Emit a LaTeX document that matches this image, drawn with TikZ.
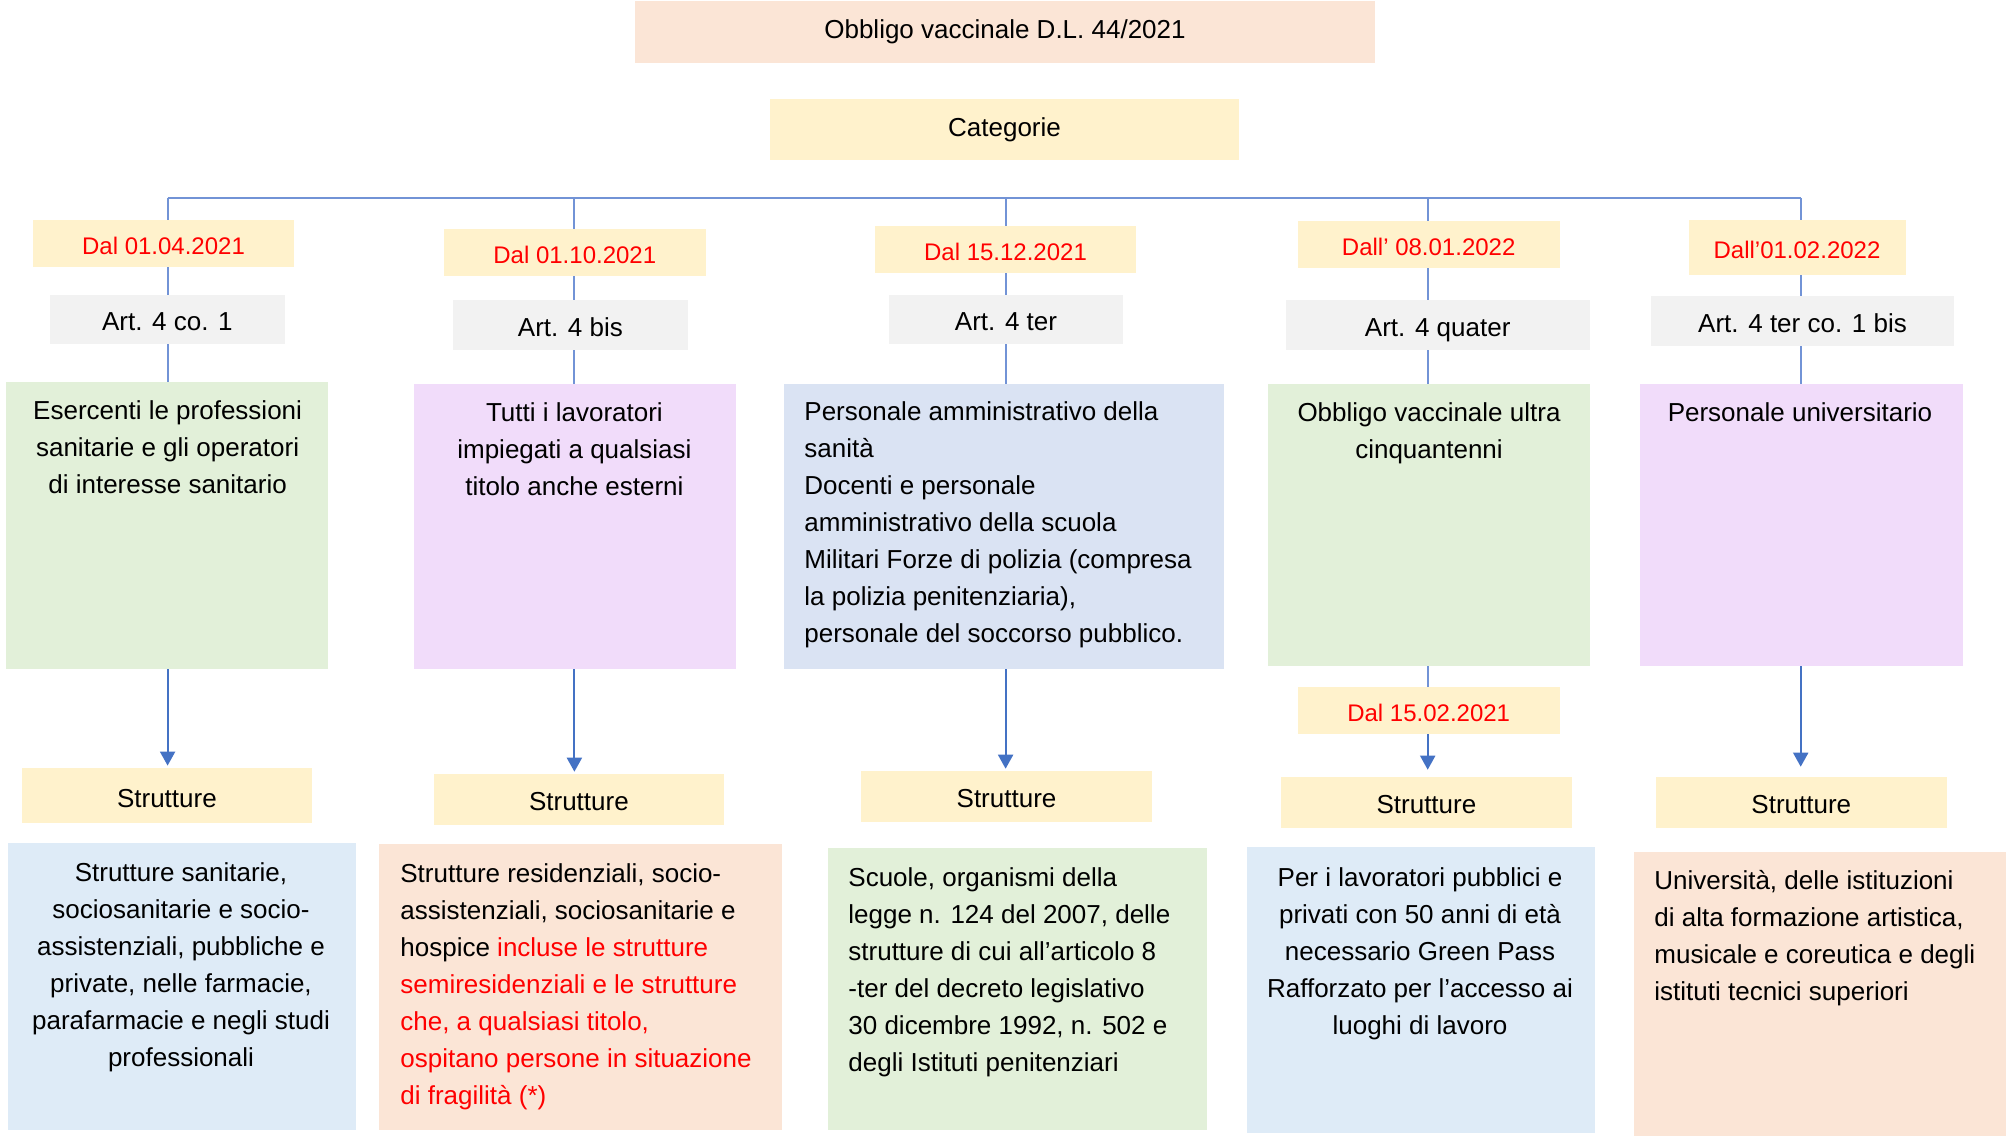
\documentclass[tikz,border=0pt]{standalone}
\usepackage{fontspec}
\setmainfont{Liberation Sans}
\usetikzlibrary{arrows.meta}

\definecolor{pesca}{HTML}{FBE5D6}
\definecolor{giallo}{HTML}{FFF2CC}
\definecolor{grigio}{HTML}{F2F2F2}
\definecolor{verde}{HTML}{E2F0D9}
\definecolor{viola}{HTML}{F1DCFA}
\definecolor{azzurro}{HTML}{DAE3F3}
\definecolor{celeste}{HTML}{DEEBF7}
\definecolor{linea}{HTML}{7293D6}
\definecolor{blufreccia}{HTML}{4472C4}
\definecolor{rosso}{HTML}{FF0000}

\begin{document}
\begin{tikzpicture}[x=0.5pt,y=-0.5pt,
	box/.style={inner sep=0pt, font=\fontsize{13}{18.5}\selectfont},
	data/.style={box, fill=giallo, text=rosso, minimum height=23.5pt, text height=10.6pt, text depth=0pt, font=\fontsize{12}{14}\selectfont},
	art/.style={box, fill=grigio, minimum height=24.5pt, text height=11.3pt, text depth=0pt},
	strutt/.style={box, fill=giallo, minimum width=145.3pt, minimum height=25.3pt, text height=11.3pt, text depth=0pt},
	testo/.style={inner sep=0pt, font=\fontsize{13}{18.5}\selectfont},
	filo/.style={draw=linea, line width=1pt},
	barra/.style={draw=linea, line width=1.3pt},
	freccia/.style={draw=blufreccia, line width=1pt, -{Triangle[width=7.5pt,length=7pt]}, shorten >=1pt}]
	\useasboundingbox (0,0) rectangle (2006,1136);

	% intestazione
	\node [box, fill=pesca, minimum width=370pt, minimum height=31pt] (titolo) at (1005,32) {Obbligo vaccinale D.L. 44/2021};
	\node [box, fill=giallo, minimum width=234.5pt, minimum height=30.5pt] (categorie) at (1004.5,129.5) {Categorie};

	\coordinate (c1) at (167.6,198);
	\coordinate (c2) at (574.4,198);
	\coordinate (c3) at (1005.6,198);
	\coordinate (c4) at (1427.7,198);
	\coordinate (c5) at (1800.7,198);

	% date
	\node [data, minimum width=130.5pt] (d1) at (163.5,243.5) {Dal 01.04.2021};
	\node [data, minimum width=130.8pt] (d2) at (574.8,252.5) {Dal 01.10.2021};
	\node [data, minimum width=130.5pt] (d3) at (1005.5,249.5) {Dal 15.12.2021};
	\node [data, minimum width=130.8pt] (d4) at (1428.7,244.5) {Dall’ 08.01.2022};
	\node [data, minimum width=108.5pt, minimum height=27.5pt] (d5) at (1797,247.5) {Dall’01.02.2022};

	% articoli
	\node [art, minimum width=117.3pt] (a1) at (167.4,319.5) {Art. 4 co. 1};
	\node [art, minimum width=117.3pt, minimum height=25pt] (a2) at (570.4,325) {Art. 4 bis};
	\node [art, minimum width=117pt] (a3) at (1006,319.5) {Art. 4 ter};
	\node [art, minimum width=152pt, minimum height=25pt] (a4) at (1437.7,325) {Art. 4 quater};
	\node [art, minimum width=151.5pt, minimum height=25pt] (a5) at (1802.5,321) {Art. 4 ter co. 1 bis};

	% categorie
	\node [box, fill=verde, minimum width=161.1pt, minimum height=143.2pt] (k1) at (166.9,525.5) {};
	\node [box, fill=viola, minimum width=161pt, minimum height=142.3pt] (k2) at (575,526.3) {};
	\node [box, fill=azzurro, minimum width=219.9pt, minimum height=142.3pt] (k3) at (1003.9,526.3) {};
	\node [box, fill=verde, minimum width=161.1pt, minimum height=140.8pt] (k4) at (1428.9,524.9) {};
	\node [box, fill=viola, minimum width=161.2pt, minimum height=140.8pt] (k5) at (1801.3,524.9) {};
	\node [testo, align=center, anchor=base] (k1t) at (167.6,493.5) {Esercenti le professioni\\sanitarie e gli operatori\\di interesse sanitario};
	\node [testo, align=center, anchor=base] (k2t) at (574.4,495.8) {Tutti i lavoratori\\impiegati a qualsiasi\\titolo anche esterni};
	\node [testo, align=left, anchor=base west] (k3t) at (804,642.5) {Personale amministrativo della\\sanità\\Docenti e personale\\amministrativo della scuola\\Militari Forze di polizia (compresa\\la polizia penitenziaria),\\personale del soccorso pubblico.};
	\node [testo, align=center, anchor=base] (k4t) at (1429,458.5) {Obbligo vaccinale ultra\\cinquantenni};
	\node [testo, align=center, anchor=base] (k5t) at (1800,421.5) {Personale universitario};

	\node [data, minimum width=130.8pt, minimum height=23.3pt] (e4) at (1428.7,710.4) {Dal 15.02.2021};

	% strutture
	\node [strutt, minimum height=27.7pt] (s1) at (166.9,795.7) {Strutture};
	\node [strutt] (s2) at (578.9,799.4) {Strutture};
	\node [strutt] (s3) at (1006.5,796.4) {Strutture};
	\node [strutt] (s4) at (1426.4,802.4) {Strutture};
	\node [strutt] (s5) at (1801.3,802.4) {Strutture};

	\node [box, fill=celeste, minimum width=173.7pt, minimum height=143.3pt] (b1) at (182,986.4) {};
	\node [box, fill=pesca, minimum width=201.5pt, minimum height=142.9pt] (b2) at (580.2,986.9) {};
	\node [box, fill=verde, minimum width=189.7pt, minimum height=140.8pt] (b3) at (1017.4,988.9) {};
	\node [box, fill=celeste, minimum width=174pt, minimum height=142.9pt] (b4) at (1420.7,989.9) {};
	\node [box, fill=pesca, minimum width=186.2pt, minimum height=142pt] (b5) at (1819.9,994) {};
	\node [testo, align=center, anchor=base] (b1t) at (181,1066) {Strutture sanitarie,\\sociosanitarie e socio-\\assistenziali, pubbliche e\\private, nelle farmacie,\\parafarmacie e negli studi\\professionali};
	\node [testo, align=left, anchor=base west] (b2t) at (400,1104.5) {Strutture residenziali, socio-\\assistenziali, sociosanitarie e\\hospice \textcolor{rosso}{incluse le strutture}\\\textcolor{rosso}{semiresidenziali e le strutture}\\\textcolor{rosso}{che, a qualsiasi titolo,}\\\textcolor{rosso}{ospitano persone in situazione}\\\textcolor{rosso}{di fragilità (*)}};
	\node [testo, align=left, anchor=base west] (b3t) at (848,1071) {Scuole, organismi della\\legge n. 124 del 2007, delle\\strutture di cui all’articolo 8\\-ter del decreto legislativo\\30 dicembre 1992, n. 502 e\\degli Istituti penitenziari};
	\node [testo, align=center, anchor=base] (b4t) at (1420,1034) {Per i lavoratori pubblici e\\privati con 50 anni di età\\necessario Green Pass\\Rafforzato per l’accesso ai\\luoghi di lavoro};
	\node [testo, align=left, anchor=base west] (b5t) at (1654,1000.5) {Università, delle istituzioni\\di alta formazione artistica,\\musicale e coreutica e degli\\istituti tecnici superiori};

	% collegamenti
	\draw [barra] (c1) -- (c5);
	\draw [filo] (c1) -- (c1 |- d1.north);
	\draw [filo] (c2) -- (c2 |- d2.north);
	\draw [filo] (c3) -- (c3 |- d3.north);
	\draw [filo] (c4) -- (c4 |- d4.north);
	\draw [filo] (c5) -- (c5 |- d5.north);
	\draw [filo] (c1 |- d1.south) -- (c1 |- a1.north);
	\draw [filo] (c2 |- d2.south) -- (c2 |- a2.north);
	\draw [filo] (c3 |- d3.south) -- (c3 |- a3.north);
	\draw [filo] (c4 |- d4.south) -- (c4 |- a4.north);
	\draw [filo] (c5 |- d5.south) -- (c5 |- a5.north);
	\draw [filo] (c1 |- a1.south) -- (c1 |- k1.north);
	\draw [filo] (c2 |- a2.south) -- (c2 |- k2.north);
	\draw [filo] (c3 |- a3.south) -- (c3 |- k3.north);
	\draw [filo] (c4 |- a4.south) -- (c4 |- k4.north);
	\draw [filo] (c5 |- a5.south) -- (c5 |- k5.north);
	\draw [freccia] (c1 |- k1.south) -- (c1 |- s1.north);
	\draw [freccia] (c2 |- k2.south) -- (c2 |- s2.north);
	\draw [freccia] (c3 |- k3.south) -- (c3 |- s3.north);
	\draw [filo] (c4 |- k4.south) -- (c4 |- e4.north);
	\draw [freccia, shorten >=3.5pt] (c4 |- e4.south) -- (c4 |- s4.north);
	\draw [freccia, shorten >=5pt] (c5 |- k5.south) -- (c5 |- s5.north);
\end{tikzpicture}
\end{document}
